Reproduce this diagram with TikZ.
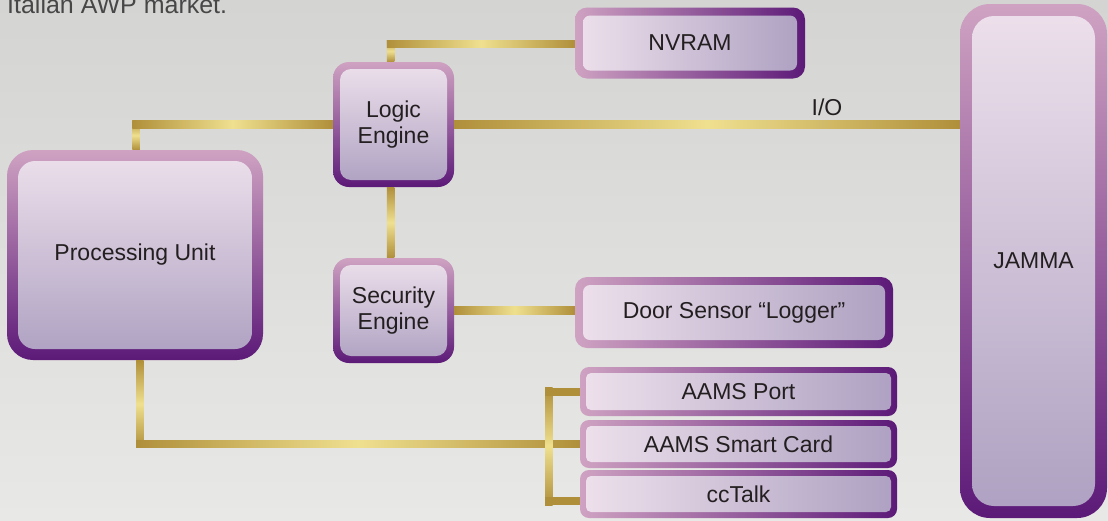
\documentclass[tikz,border=0pt]{standalone}
\usepackage{fontspec}
\setmainfont{Liberation Sans}
\usetikzlibrary{calc}
\definecolor{bgtop}{HTML}{D4D4D3}
\definecolor{bgbot}{HTML}{E8E8E6}
\definecolor{bpk}{HTML}{CFA2C2}
\definecolor{bpu}{HTML}{5C1A78}
\definecolor{ipk}{HTML}{EEE1EC}
\definecolor{ipu}{HTML}{ADA0C1}
\definecolor{txt}{HTML}{231F20}
\definecolor{hdrc}{HTML}{474747}
\definecolor{gd}{HTML}{B08F3A}
\definecolor{gl}{HTML}{EFE08F}
\tikzset{
  boxbase/.style={shape=rectangle, inner sep=0pt, text=txt,
    font=\fontsize{23}{26}\selectfont, align=center},
  vbox/.style={boxbase, top color=bpk, bottom color=bpu},
  hbox/.style={boxbase, left color=bpk, right color=bpu},
  vin/.style={top color=ipk, bottom color=ipu},
  hin/.style={left color=ipk, right color=ipu},
  inner/.style n args={3}{path picture={
    \shade[#1, rounded corners=#3]
      ($(path picture bounding box.north west)+(#2,-#2)$) rectangle
      ($(path picture bounding box.south east)+(-#2,#2)$);}},
  gh/.style={left color=gd, right color=gd, middle color=gl},
  gv/.style={top color=gd, bottom color=gd, middle color=gl},
  gs/.style={fill=gd}
}
\begin{document}
\begin{tikzpicture}[x=1pt,y=-1pt]
\useasboundingbox (0,0) rectangle (1108,520);
\clip (0,0) rectangle (1108,520);
\shade[top color=bgtop, bottom color=bgbot] (0,0) rectangle (1108,520);

\node[anchor=base west, text=hdrc, font=\fontsize{25}{30}\selectfont, inner sep=0pt]
  (hdr) at (7,13.5) {Italian AWP market.};

% boxes
\node[vbox, minimum width=256pt, minimum height=210pt, rounded corners=26pt,
  inner={vin}{11pt}{17pt}] (pu) at (135,255) {Processing Unit};
\node[vbox, minimum width=121pt, minimum height=125pt, rounded corners=16pt,
  inner={vin}{7pt}{11pt}] (logic) at (393.5,124.5) {Logic\\Engine};
\node[vbox, minimum width=121pt, minimum height=105pt, rounded corners=16pt,
  inner={vin}{7pt}{11pt}] (sec) at (393.5,310.5) {Security\\Engine};
\node[hbox, minimum width=230pt, minimum height=71pt, rounded corners=12pt,
  inner={hin}{8pt}{7pt}] (nvram) at (690,43) {NVRAM};
\node[hbox, minimum width=318pt, minimum height=71pt, rounded corners=12pt,
  inner={hin}{8pt}{7pt}] (door) at (734,312.5) {Door Sensor “Logger”};
\node[hbox, minimum width=317pt, minimum height=49pt, rounded corners=9pt,
  inner={hin}{6pt}{5pt}] (aams1) at (738.5,391.5) {AAMS Port};
\node[hbox, minimum width=317pt, minimum height=48pt, rounded corners=9pt,
  inner={hin}{6pt}{5pt}] (aams2) at (738.5,444) {AAMS Smart Card};
\node[hbox, minimum width=317pt, minimum height=48pt, rounded corners=9pt,
  inner={hin}{6pt}{5pt}] (cct) at (738.5,494) {ccTalk};
\node[vbox, minimum width=147pt, minimum height=514pt, rounded corners=30pt,
  inner={vin}{12pt}{22pt}] (jamma) at (1033.5,261) {JAMMA};

\node[text=txt, font=\fontsize{23}{26}\selectfont, inner sep=0pt] (io) at (827,107) {I/O};

% connectors
% Processing Unit -> Logic Engine
\shade[gv] ($(pu.north)+(-2.75,0)$) rectangle ($(pu.north |- logic.west)+(4.75,-3.75)$);
\shade[gh] ($(pu.north |- logic.west)+(-2.75,-3.75)$) rectangle ($(logic.west)+(0,3.75)$);
% Logic Engine -> JAMMA (I/O)
\shade[gh] ($(logic.east)+(0,-3.75)$) rectangle ($(logic.east -| jamma.west)+(0,3.75)$);
% Logic Engine -> NVRAM
\shade[gv] ($(logic.north)+(-6.75,0)$) rectangle ($(logic.north |- nvram.west)+(0.75,-2.75)$);
\shade[gh] ($(logic.north |- nvram.west)+(-6.75,-2.75)$) rectangle ($(nvram.west)+(0,4.75)$);
% Logic Engine -> Security Engine
\shade[gv] ($(logic.south)+(-6.75,0)$) rectangle ($(sec.north)+(0.75,0)$);
% Security Engine -> Door Sensor
\shade[gh] ($(sec.east)+(0,-3.75)$) rectangle ($(sec.east -| door.west)+(0,3.75)$);
% Processing Unit -> AAMS Smart Card
\shade[gv] ($(pu.south)+(1,0)$) rectangle ($(pu.south |- aams2.west)+(8.5,3.75)$);
\shade[gh] ($(pu.south |- aams2.west)+(1,-3.75)$) rectangle ($(aams2.west)+(0,3.75)$);
% bracket AAMS Port / ccTalk
\shade[gv] ($(aams1.west)+(-34.75,-4)$) rectangle ($(cct.west)+(-27.25,11)$);
\fill[gs] ($(aams1.west)+(-34.75,-4)$) rectangle ($(aams1.west)+(0,4)$);
\fill[gs] ($(cct.west)+(-34.75,3)$) rectangle ($(cct.west)+(0,11)$);
\end{tikzpicture}
\end{document}
